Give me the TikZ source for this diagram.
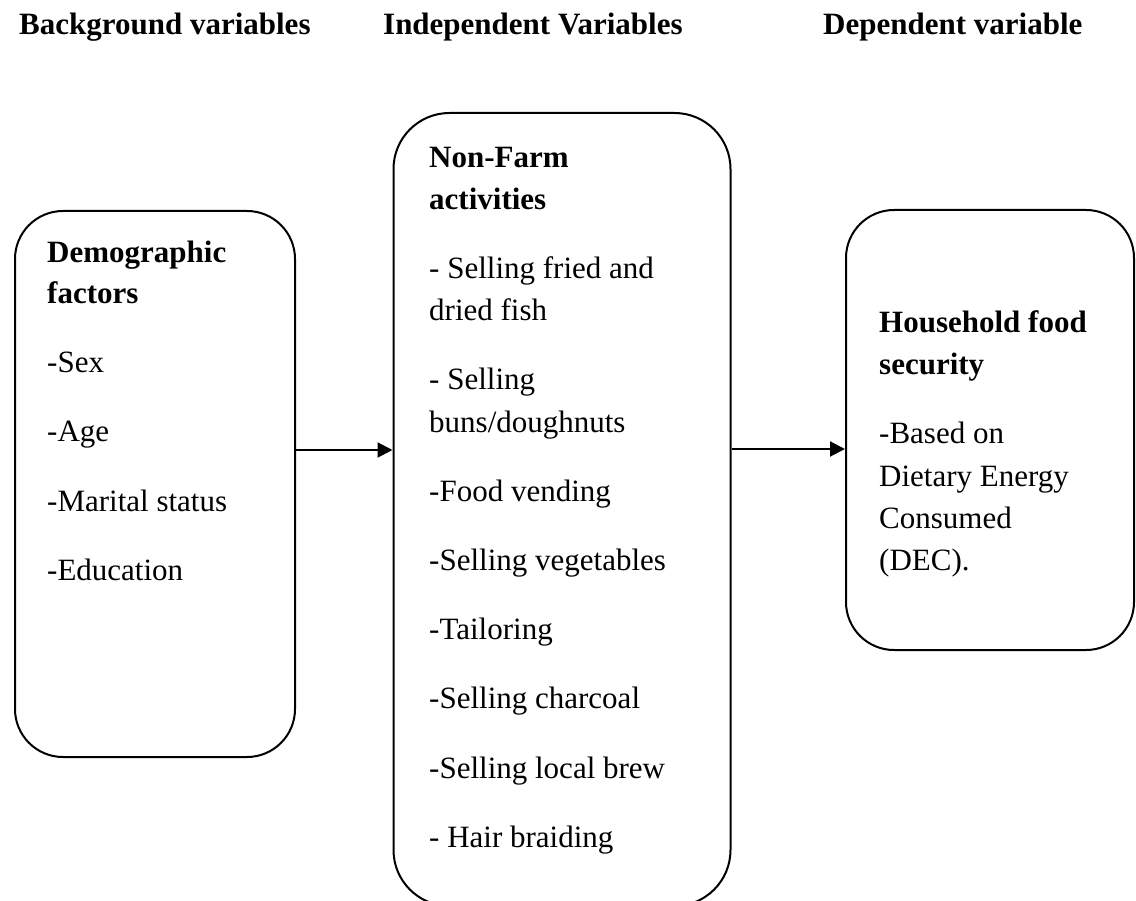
\documentclass[tikz,border=0pt]{standalone}
\usepackage{fontspec}
\setmainfont{Liberation Serif}
\usetikzlibrary{arrows.meta}
\begin{document}
\begin{tikzpicture}[x=1pt,y=-1pt,
  boxst/.style={draw=black,line width=2pt,rounded corners=#1,inner sep=0pt,fill=none},
  boxst/.default=48pt,
  txt/.style={anchor=base west,inner sep=0pt,font=\fontsize{31}{37}\selectfont},
  hd/.style={txt,font=\fontsize{31}{37}\selectfont\bfseries},
  arr/.style={line width=2pt,-{Triangle[length=15pt,width=15pt]}}]
\useasboundingbox (0,0) rectangle (1136,901);
\clip (0,0) rectangle (1136,901);
\fill[white] (0,0) rectangle (1136,901);
% headings
\node[hd] (h1) at (19,35) {Background variables};
\node[hd] (h2) at (383,35) {Independent Variables};
\node[hd] (h3) at (823,35) {Dependent variable};
% boxes
\node[boxst=48pt,minimum width=280pt,minimum height=546pt] (L) at (155,484) {};
\node[boxst=56pt,minimum width=337pt,minimum height=793pt] (M) at (562,509.5) {};
\node[boxst=48pt,minimum width=288pt,minimum height=440pt] (R) at (990,430) {};
% left text
\node[hd] (l1) at (47,263) {Demographic};
\node[hd] (l2) at (47,304) {factors};
\node[txt] (l3) at (47,373) {-Sex};
\node[txt] (l4) at (47,442) {-Age};
\node[txt] (l5) at (47,511) {-Marital status};
\node[txt] (l6) at (47,580) {-Education};
% middle text
\node[hd] (m1) at (429,168) {Non-Farm};
\node[hd] (m2) at (429,210) {activities};
\node[txt] (m3) at (429,279) {- Selling fried and};
\node[txt] (m4) at (429,321) {dried fish};
\node[txt] (m5) at (429,390) {- Selling};
\node[txt] (m6) at (429,432) {buns/doughnuts};
\node[txt] (m7) at (429,501) {-Food vending};
\node[txt] (m8) at (429,570) {-Selling vegetables};
\node[txt] (m9) at (429,639) {-Tailoring};
\node[txt] (m10) at (429,708) {-Selling charcoal};
\node[txt] (m11) at (429,778) {-Selling local brew};
\node[txt] (m12) at (429,847) {- Hair braiding};
% right text
\node[hd] (r1) at (879,333) {Household food};
\node[hd] (r2) at (879,375) {security};
\node[txt] (r3) at (879,443) {-Based on};
\node[txt] (r4) at (879,486) {Dietary Energy};
\node[txt] (r5) at (879,528) {Consumed};
\node[txt] (r6) at (879,570) {(DEC).};
% arrows
\draw[arr] ([yshift=34pt]L.east) -- ([yshift=34pt]L.east -| M.west);
\draw[arr] ([yshift=-19pt]R.west -| M.east) -- ([yshift=-19pt]R.west);
\end{tikzpicture}
\end{document}
